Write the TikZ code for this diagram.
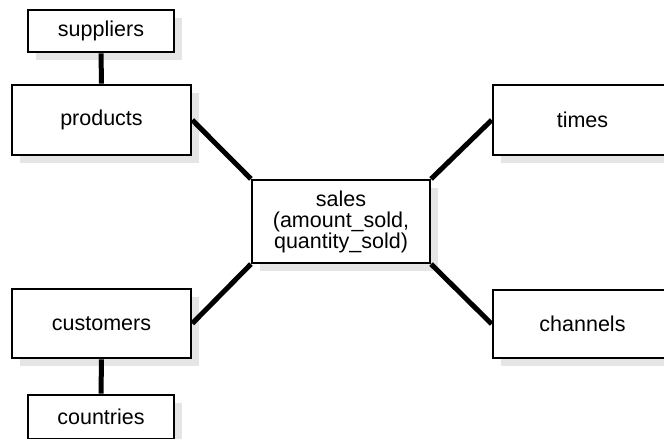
\documentclass[tikz,border=0pt]{standalone}
\usepackage{fontspec}
\setmainfont{Liberation Sans}
\usetikzlibrary{shadows}

\begin{document}
\begin{tikzpicture}[x=1pt,y=-1pt,
  table/.style={rectangle,draw,line width=2.6pt,fill=white,align=center,
    font=\fontsize{21.5}{21}\selectfont,inner sep=0pt,
    drop shadow={shadow xshift=8pt,shadow yshift=-8pt,fill=black!10,opacity=1}},
  link/.style={line width=5pt}]
\clip (0,0) rectangle (664,439);
\fill[white] (0,0) rectangle (664,439);
\node [table,minimum width=146pt,minimum height=42pt] (suppliers) at (101,31) {suppliers};
\node [table,minimum width=179pt,minimum height=70pt] (products) at (101.5,120) {products};
\node [table,line width=2.2pt,minimum width=178pt,minimum height=83pt] (sales) at (341,221.5)
  {sales\\(amount\_sold,\\quantity\_sold)};
\node [table,minimum width=179pt,minimum height=69pt] (customers) at (101.5,323.5) {customers};
\node [table,minimum width=146pt,minimum height=44pt] (countries) at (101,417) {countries};
\node [table,minimum width=179pt,minimum height=70pt] (times) at (582.5,120) {times};
\node [table,minimum width=179pt,minimum height=68pt] (channels) at (582.5,324) {channels};
% joins to the fact table
\draw [link] (suppliers.south) -- (products.north);
\draw [link] (customers.south) -- (countries.north);
\draw [link] (products.east) -- (sales.north west);
\draw [link] (customers.east) -- (sales.south west);
\draw [link] (times.west) -- (sales.north east);
\draw [link] (channels.west) -- (sales.south east);
\end{tikzpicture}
\end{document}
